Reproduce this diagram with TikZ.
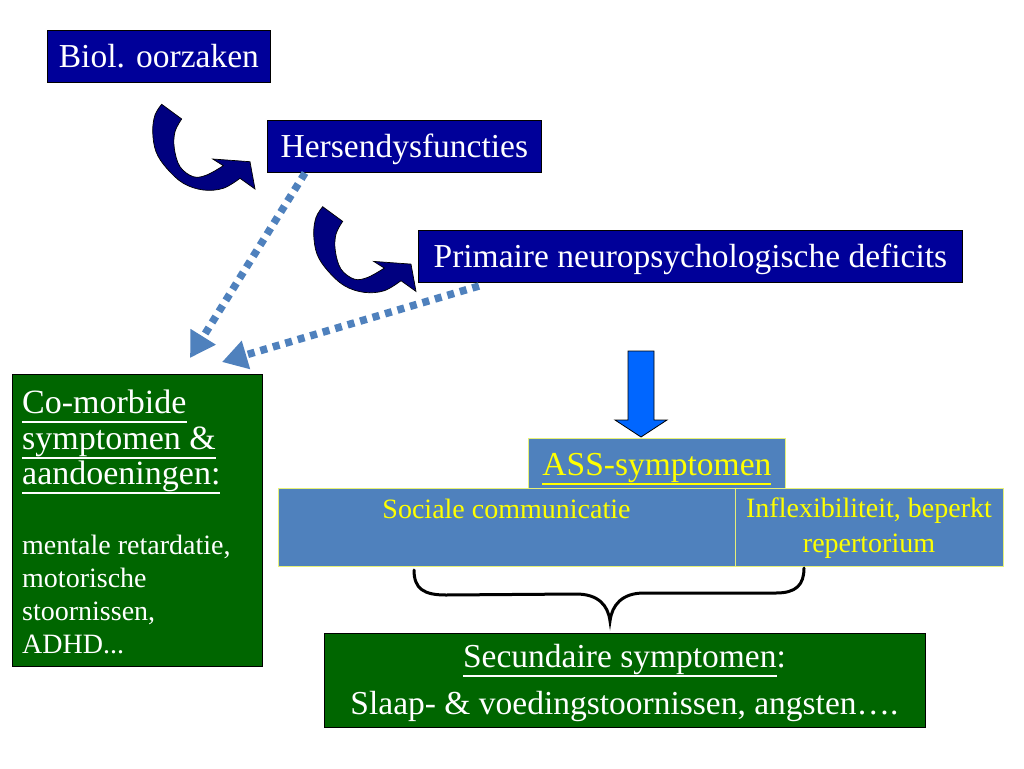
\documentclass[tikz,border=0pt]{standalone}
\usepackage{fontspec}
\setmainfont{Liberation Serif}
\newcommand{\myul}[1]{\setbox0\hbox{#1}\rlap{\rule[-0.28em]{\wd0}{0.055em}}\box0}
\usetikzlibrary{arrows.meta,calc}
\definecolor{navybox}{RGB}{0,0,153}
\definecolor{navyarrow}{RGB}{0,0,128}
\definecolor{greenbox}{RGB}{0,102,0}
\definecolor{steel}{RGB}{79,129,189}
\definecolor{ylw}{RGB}{255,255,0}
\definecolor{paleylw}{RGB}{230,240,120}
\definecolor{brightblue}{RGB}{0,102,255}
\tikzset{
  bluebox/.style={draw=black, line width=0.8pt, fill=navybox, text=white,
    font=\fontsize{33.5}{40}\selectfont, inner xsep=0pt, inner ysep=0pt,
    text height=37.5pt, text depth=14.5pt, anchor=north west},
  greenbg/.style={draw=black, line width=0.8pt, fill=greenbox, inner sep=0pt, anchor=north west},
  cellbox/.style={draw=paleylw, line width=0.9pt, fill=steel, inner sep=0pt, anchor=north west},
  celltext/.style={text=ylw, font=\fontsize{28}{35}\selectfont, inner sep=0pt, anchor=north, align=center},
  whitetext/.style={text=white, inner sep=0pt},
  dotarrow/.style={draw=steel, line width=7.5pt, dash pattern=on 7pt off 6pt,
    -{Triangle[length=25pt,width=28pt]}},
  curvarr/.pic={
    \filldraw[fill=navyarrow, draw=black, line width=0.7pt, line join=miter]
      plot[smooth, tension=0.6] coordinates {(0,0) (-6.7,10.7) (-9,27.4) (-5.7,47.4) (5,64) (21.6,79) (41.6,85.7) (61.6,84) (78.3,74)}
      -- (93.3,84.7) -- (88.3,57.4) -- (51,54.7) -- (61.6,61.4)
      -- plot[smooth, tension=0.6] coordinates {(61.6,61.4) (45,70.7) (31.6,72.4) (18.3,62.4) (12.6,44) (13.3,27.4) (20,14.7)}
      -- cycle;
  }
}
\begin{document}
\begin{tikzpicture}[x=1pt,y=-1pt]
\useasboundingbox[fill=white] (0,0) rectangle (1024,768);

% top blue boxes
\node[bluebox, minimum width=223pt] (biol) at (47,30) {Biol. oorzaken};
\node[bluebox, minimum width=274pt] (hers) at (267,120) {Hersendysfuncties};
\node[bluebox, minimum width=544pt] (prim) at (418,230) {Primaire neuropsychologische deficits};

% curved arrows
\pic at (161.7,104.3) {curvarr};
\pic at (322.7,206.7) {curvarr};

% co-morbide box
\node[greenbg, minimum width=250pt, minimum height=292pt] (como) at (12,374) {};
\node[whitetext, anchor=north west, align=left, font=\fontsize{34}{35.5}\selectfont] (comot) at (22,389.8)
  {\myul{Co-morbide}\\\myul{symptomen \&}\\\myul{aandoeningen:}};
\node[whitetext, anchor=north west, align=left, font=\fontsize{28}{33}\selectfont] (comos) at (22,534.9)
  {mentale retardatie,\\motorische\\stoornissen,\\ADHD...};

% dotted arrows
\coordinate (d1s) at (305,173);
\coordinate (d1e) at (190,358);
\coordinate (d2s) at (479,286);
\coordinate (d2e) at (222,362);
\draw[dotarrow] (d1s) -- (d1e);
\draw[dotarrow] (d2s) -- (d2e);

% ASS cells
\node[cellbox, minimum width=457pt, minimum height=78pt] (soc) at (278,488) {};
\node[cellbox, minimum width=268pt, minimum height=78pt] (infl) at (735,488) {};
\node[celltext] (soct) at (506.5,499) {Sociale communicatie};
\node[celltext] (inflt) at (869,498) {Inflexibiliteit, beperkt\\repertorium};
\node[cellbox, text=ylw, font=\fontsize{33.5}{40}\selectfont, minimum width=257pt,
  text height=37pt, text depth=13pt] (ass) at (528,438) {\myul{ASS-symptomen}};

% block arrow
\filldraw[fill=brightblue, draw=black, line width=0.8pt]
  (628,351) -- (654,351) -- (654,420) -- (667,420) -- (641,437) -- (615,420) -- (628,420) -- cycle;

% brace
\draw[black, line width=3pt, line cap=round]
  (414,570) .. controls (414,589) and (424,595) .. (446,595)
  -- (576,594) .. controls (598,594) and (608,605) .. (610,621)
  .. controls (612,605) and (622,593) .. (644,593)
  -- (776,593) .. controls (796,593) and (804,585) .. (804,568);

% secundaire box
\node[greenbg, minimum width=601pt, minimum height=94pt] (sec) at (324,633) {};
\node[whitetext, anchor=north, align=center, font=\fontsize{33.5}{47}\selectfont] (sect) at (624.5,644)
  {\myul{Secundaire symptomen}:\\Slaap- \& voedingstoornissen, angsten….};
\end{tikzpicture}
\end{document}
